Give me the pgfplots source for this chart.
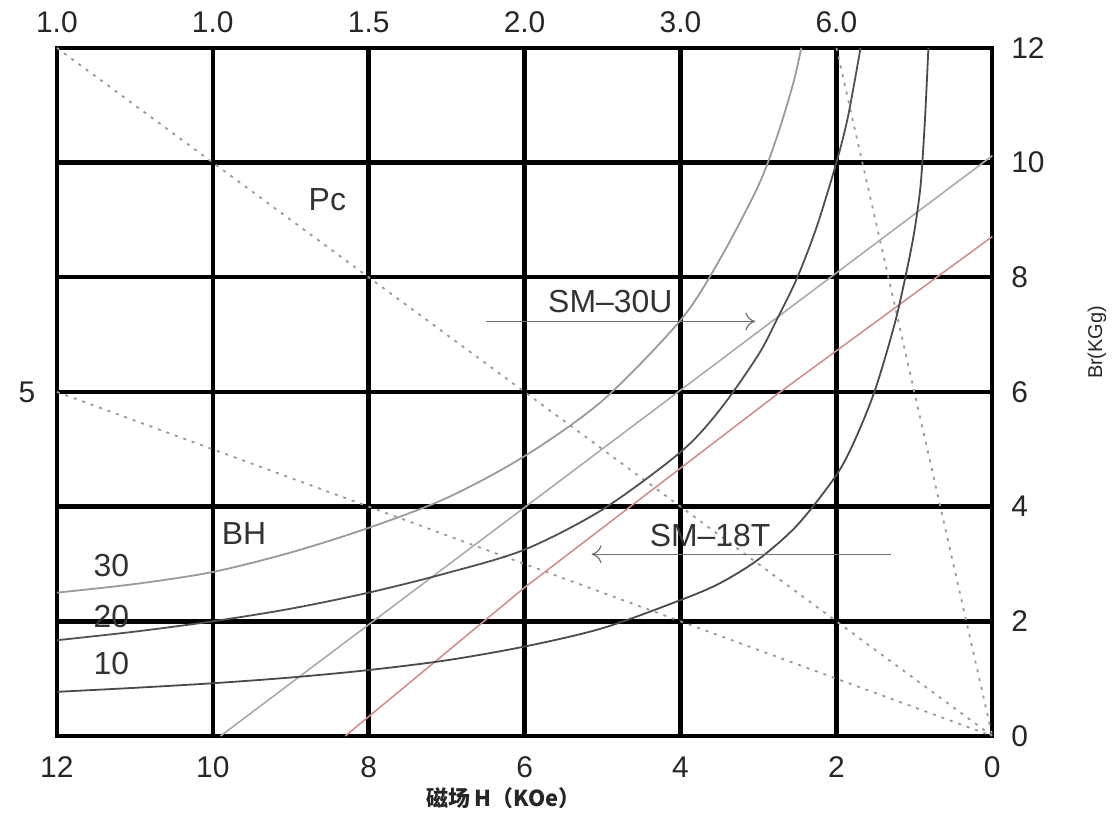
\documentclass[border=0pt]{standalone}
\usepackage{pgfplots}
\pgfplotsset{compat=1.18}
\usetikzlibrary{arrows.meta}
\usepackage{fontspec}
\setmainfont{Liberation Sans}
\newfontfamily\cjk{Noto Sans CJK SC}
\definecolor{cthirty}{HTML}{9A9A9A}
\definecolor{ctwenty}{HTML}{505050}
\definecolor{cten}{HTML}{4A4A4A}
\definecolor{cgrayline}{HTML}{AAAAAA}
\definecolor{credline}{HTML}{D09090}
\definecolor{cdash}{HTML}{999999}
\definecolor{carrow}{HTML}{707070}
\tikzset{toplab/.style={font=\fontsize{15}{18}\selectfont, text=black!85, yshift=13pt}}
\begin{document}
\begin{tikzpicture}
\begin{axis}[
  scale only axis, width=469pt, height=345pt,
  xmin=0, xmax=12, ymin=0, ymax=12, x dir=reverse,
  xtick={0,2,...,12}, ytick={0,2,...,12},
  yticklabel pos=right,
  major tick length=0pt,
  grid=major,
  major grid style={black, line width=2.2pt},
  axis line style={black, line width=2.2pt},
  tick label style={font=\fontsize{15}{18}\selectfont, text=black!85},
  /pgf/number format/assume math mode=true,
  xticklabel style={yshift=-7pt},
  yticklabel style={anchor=west, xshift=6pt},
  clip=false,
]
% invisible frame fixing the picture size
\path (rel axis cs:-0.0608,-0.1203) rectangle (rel axis cs:1.1258,1.0696);

% load lines (Pc)
\addplot[cdash, line width=0.9pt, dash pattern=on 1.5pt off 3pt] coordinates {(12,12) (0,0)};
\addplot[cdash, line width=0.9pt, dash pattern=on 1.5pt off 3pt] coordinates {(12,6) (0,0)};
\addplot[cdash, line width=0.9pt, dash pattern=on 1.5pt off 3pt] coordinates {(2,12) (0,0)};

% demagnetization lines
\addplot[cgrayline, line width=0.8pt] coordinates {(9.9,0) (0,10.12)};
\addplot[credline, line width=0.8pt] coordinates {(8.3,0) (5.99,2.6) (2.75,5.97) (0,8.71)};

% BH = 30
\addplot[cthirty, line width=0.9pt, smooth] coordinates {
(12,2.5) (11,2.65) (10,2.86) (9,3.2) (8,3.63) (7,4.15) (6,4.88) (5,5.85) (4,7.25) (3.5,8.3) (3,9.6) (2.75,10.5) (2.55,11.4) (2.45,12)};
% BH = 20
\addplot[ctwenty, line width=0.9pt, smooth] coordinates {
(12,1.67) (11,1.82) (10,2.0) (9,2.22) (8,2.5) (7,2.84) (6,3.25) (5,3.95) (4,4.95) (3.5,5.68) (3,6.65) (2.75,7.3) (2.5,8.0) (2.25,8.89) (2.0,10.0) (1.85,10.81) (1.69,12)};
% BH = 10
\addplot[cten, line width=0.9pt, smooth] coordinates {
(12,0.77) (11,0.84) (10,0.92) (9,1.02) (8,1.15) (7,1.32) (6,1.56) (5,1.88) (4,2.37) (3.5,2.66) (3,3.08) (2.5,3.68) (2,4.55) (1.75,5.2) (1.5,6.05) (1.25,7.2) (1.1,8.1) (1.0,8.8) (0.92,9.6) (0.87,10.6) (0.84,11.4) (0.82,12)};

% annotations
\node[font=\fontsize{16}{19}\selectfont, text=black!80] at (axis cs:8.53,9.36) {Pc};
\node[font=\fontsize{16}{19}\selectfont, text=black!80] at (axis cs:9.6,3.53) {BH};
\node[font=\fontsize{16}{19}\selectfont, text=black!80] at (axis cs:11.3,2.97) {30};
\node[font=\fontsize{16}{19}\selectfont, text=black!80] at (axis cs:11.3,2.09) {20};
\node[font=\fontsize{16}{19}\selectfont, text=black!80] at (axis cs:11.3,1.27) {10};
\node[font=\fontsize{16}{19}\selectfont, text=black!80] at (axis cs:4.90,7.57) {SM–30U};
\draw[carrow, line width=0.6pt, -{To[length=5pt,width=9pt]}] (axis cs:6.49,7.23) -- (axis cs:3.04,7.23);
\node[font=\fontsize{16}{19}\selectfont, text=black!80] at (axis cs:3.62,3.50) {SM–18T};
\draw[carrow, line width=0.6pt, -{To[length=5pt,width=9pt]}] (axis cs:1.30,3.17) -- (axis cs:5.14,3.17);

% top Pc labels
\node[toplab] at (axis cs:12,12) {1.0};
\node[toplab] at (axis cs:10,12) {1.0};
\node[toplab] at (axis cs:8,12) {1.5};
\node[toplab] at (axis cs:6,12) {2.0};
\node[toplab] at (axis cs:4,12) {3.0};
\node[toplab] at (axis cs:2,12) {6.0};
\node[font=\fontsize{15}{18}\selectfont, text=black!85, xshift=-15pt] at (axis cs:12,6) {5};
\node[font=\fontsize{10}{12}\selectfont, text=black!85, rotate=90] at (rel axis cs:1.112,0.572) {Br(KGg)};
\node[font=\cjk\bfseries\fontsize{11}{13}\selectfont, text=black!85] at (rel axis cs:0.4776,-0.0899) {磁场\,H（KOe）};
\end{axis}
\end{tikzpicture}
\end{document}
